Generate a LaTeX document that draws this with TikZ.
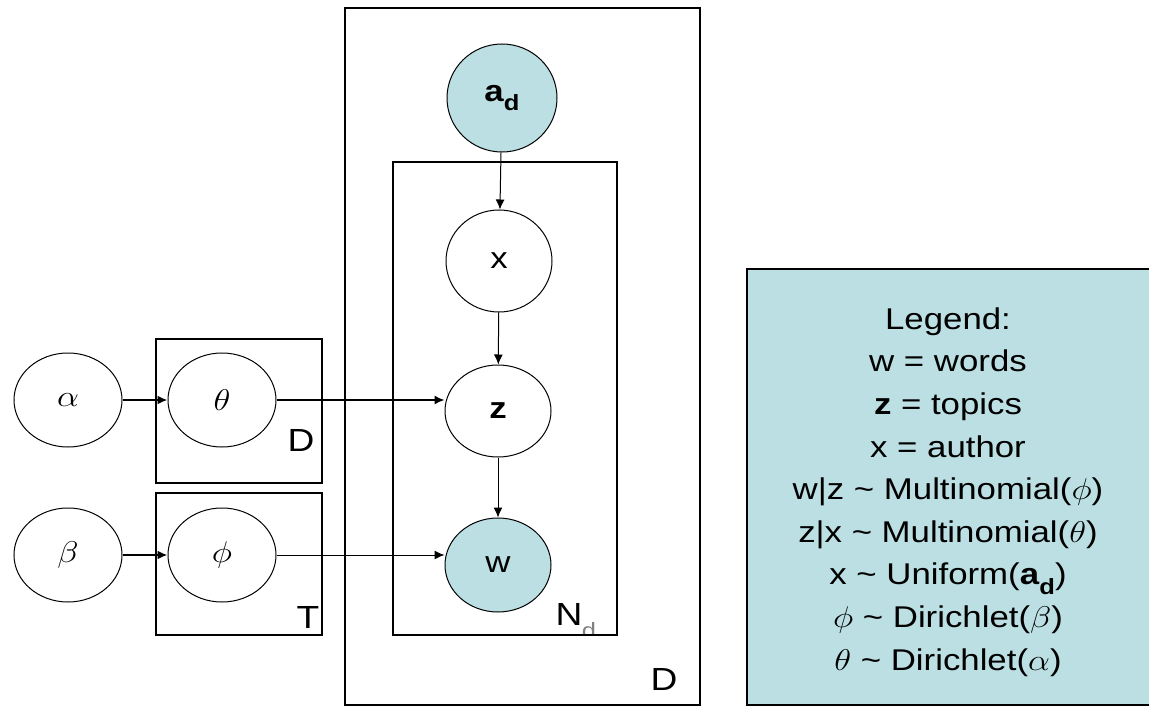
\documentclass[tikz,border=0pt]{standalone}
\usepackage{fix-cm}
\usepackage{graphicx}
\usepackage{fontspec}
\setmainfont{Liberation Sans}[FakeStretch=1.16]
\usetikzlibrary{arrows.meta,shapes.geometric}
\definecolor{obsfill}{RGB}{187,223,227}
\newcommand{\adsub}{\textbf{a}\raisebox{-0.32em}{\fontsize{22}{22}\selectfont\bfseries d}}
\newcommand{\gk}[1]{\scalebox{1.16}[1]{$#1$}}
\begin{document}
\begin{tikzpicture}[x=1pt,y=-1pt,
  var/.style={ellipse,draw,line width=1pt,inner sep=0pt,font=\fontsize{30}{36}\selectfont},
  obs/.style={var,fill=obsfill},
  plate/.style={draw,line width=2pt},
  platelabel/.style={font=\fontsize{32}{36}\selectfont,inner sep=0pt},
  arr/.style={-{Latex[length=10pt,width=9pt]},line width=1pt}
]
\useasboundingbox (0,0) rectangle (1157,706);
% plate labels (drawn first so the plate borders lie over them)
\node[platelabel] (lD1) at (301,440) {D};
\node[platelabel] (lT) at (308,617) {T};
\node[platelabel] (lN) at (569,614) {N};
\node[font=\fontsize{22}{22}\selectfont,inner sep=0pt,text=gray] (lNd) at (589,631) {d};
\node[platelabel] (lD2) at (664,679) {D};
% plates
\fill[white] (560,636) rectangle (600,645);
\draw[plate] (345,8) rectangle (700,705);
\draw[plate] (393,162) rectangle (617,635);
\draw[plate] (156,339) rectangle (322,483);
\draw[plate] (156,493) rectangle (322,635);
% nodes
\node[obs,minimum width=110pt,minimum height=108pt] (ad) at (502,98) {\adsub};
\node[var,minimum width=106pt,minimum height=102pt] (x) at (499,261) {x};
\node[var,minimum width=106pt,minimum height=92pt] (z) at (498,411) {\textbf{z}};
\node[obs,minimum width=106pt,minimum height=94pt] (w) at (498,565) {w};
\node[var,minimum width=108pt,minimum height=94pt] (alpha) at (68,400) {\gk{\alpha}};
\node[var,minimum width=108pt,minimum height=94pt] (theta) at (222,400) {\gk{\theta}};
\node[var,minimum width=108pt,minimum height=94pt] (beta) at (68,555) {\gk{\beta}};
\node[var,minimum width=108pt,minimum height=94pt] (phi) at (222,555) {\gk{\phi}};
% edges
\draw[arr,line width=2pt] (alpha) -- (theta);
\draw[arr,line width=2pt] (beta) -- (phi);
\draw[arr,line width=1.5pt] (theta.east) -- (theta.east -| z.west);
\draw[arr] (phi.east) -- (phi.east -| w.west);
\draw[arr] (ad) -- (x);
\draw[arr] (x) -- (z);
\draw[arr] (z) -- (w);
% legend
\fill[obsfill] (747,269) rectangle (1149,705);
\draw[line width=2pt] (1149,269) -- (747,269) -- (747,705) -- (1149,705);
\node[align=center,inner sep=0pt,font=\fontsize{30}{42.6}\selectfont] (legend) at (948,492)
 {Legend:\\
  w = words\\
  \textbf{z} = topics\\
  x = author\\
  w\textbar z \textasciitilde{} Multinomial(\gk{\phi})\\
  z\textbar x \textasciitilde{} Multinomial(\gk{\theta})\\
  x \textasciitilde{} Uniform(\adsub)\\
  \gk{\phi} \textasciitilde{} Dirichlet(\gk{\beta})\\
  \gk{\theta} \textasciitilde{} Dirichlet(\gk{\alpha})};
\end{tikzpicture}
\end{document}
